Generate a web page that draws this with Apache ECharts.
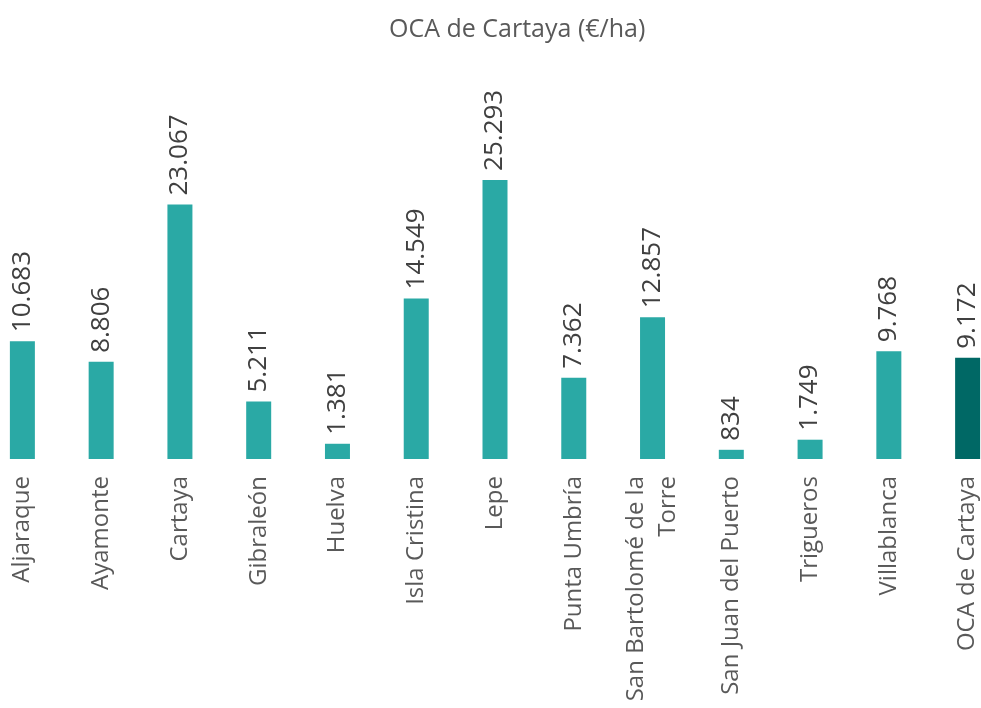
<!DOCTYPE html>
<html>
<head>
<meta charset="utf-8">
<script src="https://cdn.jsdelivr.net/npm/echarts@6/dist/echarts.min.js"></script>
<style>
  html, body { margin: 0; padding: 0; background: #fff; overflow: hidden; }
  /* el lienzo es más ancho que la ventana: la primera y la última barra quedan pegadas al borde */
  #chart { width: 1024px; height: 708px; margin-left: -17px; }
</style>
</head>
<body>
<div id="chart"></div>
<script>
// datos
var municipios = ['Aljaraque', 'Ayamonte', 'Cartaya', 'Gibraleón', 'Huelva', 'Isla Cristina', 'Lepe',
  'Punta Umbría', 'San Bartolomé de la Torre', 'San Juan del Puerto', 'Trigueros', 'Villablanca', 'OCA de Cartaya']
var valores = [10683, 8806, 23067, 5211, 1381, 14549, 25293, 7362, 12857, 834, 1749, 9768, 9172]

var colorBar = '#2aa9a5'
var colorOca = '#006865'

var myChart = echarts.init(document.getElementById('chart'))

function miles (v) {
  return String(v).replace(/\B(?=(\d{3})+(?!\d))/g, '.')
}

var option = {
  animation: false,
  title: {
    text: 'OCA de Cartaya (€/ha)',
    left: 401,
    top: 12,
    textStyle: {
      color: '#595959',
      fontFamily: 'Open Sans',
      fontWeight: 'normal',
      fontSize: 25
    }
  },
  grid: {
    left: 0,
    right: 0,
    top: 128,
    bottom: 249,
    containLabel: false,
    outerBoundsMode: 'none'
  },
  xAxis: {
    type: 'category',
    data: municipios,
    axisLine: { show: false },
    axisTick: { show: false },
    axisLabel: {
      rotate: 90,
      interval: 0,
      margin: 17,
      color: '#595959',
      fontFamily: 'Open Sans',
      fontSize: 24,
      lineHeight: 32,
      formatter: function (v) {
        // partir los nombres largos
        if (v.length > 20) {
          var i = v.lastIndexOf(' ')
          return v.slice(0, i) + '\n' + v.slice(i + 1)
        }
        return v
      }
    }
  },
  yAxis: {
    type: 'value',
    min: 0,
    max: 30000,
    show: false,
    splitLine: { show: false }
  },
  series: [{
    type: 'bar',
    barWidth: 25,
    data: valores.map(function (v, i) {
      return {
        value: v,
        itemStyle: { color: i === valores.length - 1 ? colorOca : colorBar }
      }
    }),
    label: {
      show: true,
      position: 'top',
      rotate: 90,
      align: 'left',
      verticalAlign: 'middle',
      distance: 9,
      color: '#404040',
      fontFamily: 'Open Sans',
      fontSize: 26,
      formatter: function (p) { return miles(p.value) }
    }
  }]
}

myChart.setOption(option)
</script>
</body>
</html>
